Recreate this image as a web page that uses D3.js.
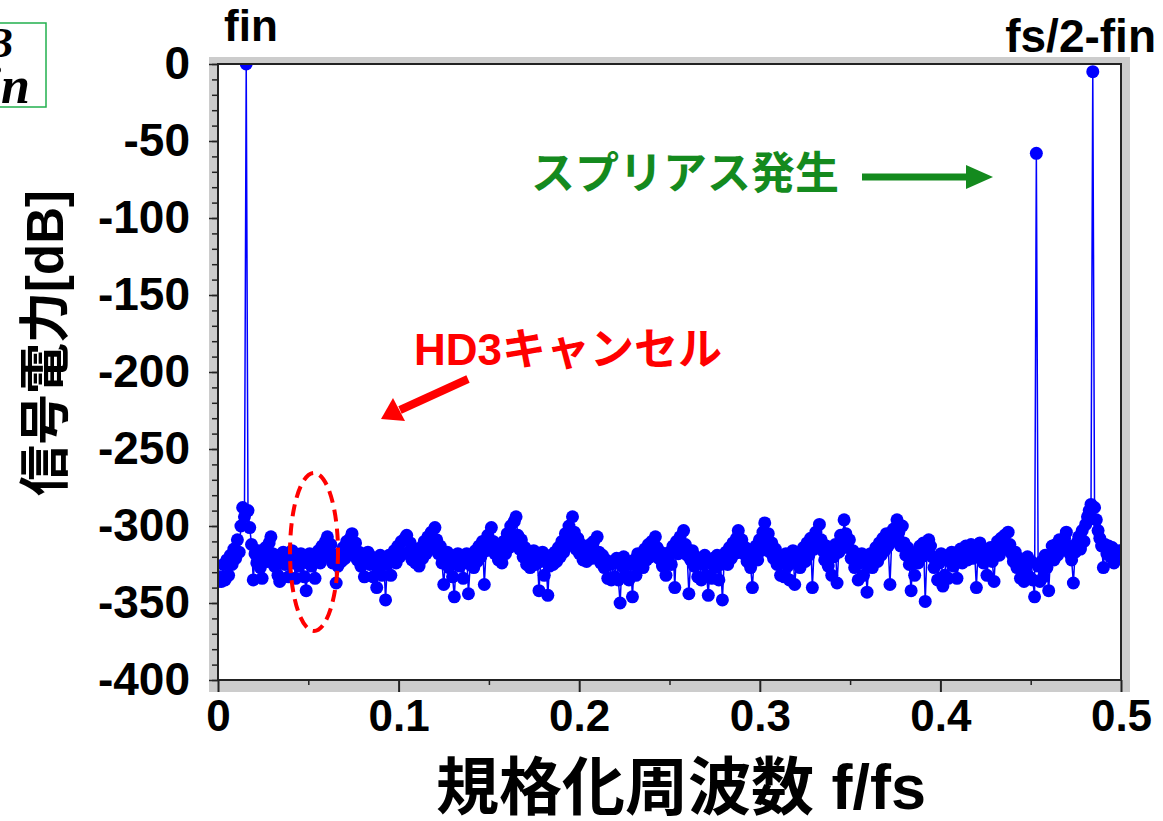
<!DOCTYPE html>
<html>
<head>
<meta charset="utf-8">
<script src="https://cdn.jsdelivr.net/npm/d3@7"></script>
<style>
  body { margin: 0; background: #fff; }
  svg { display: block; }
</style>
</head>
<body>
<svg width="1163" height="821"></svg>
<script>
// FFT output power, one value per bin, bins spread evenly over 0 .. fs/2
var binCount = 512;
var spectrumDb = [
  -336, -333, -336, -325, -335, -322, -332, -319, -325, -315, -321, -309, -317, -300, -288, -294,
  0, -290, -301, -312, -335, -318, -324, -316, -327, -334, -321, -314, -323, -311, -307, -318,
  -326, -319, -332, -336, -322, -317, -325, -320, -333, -323, -316, -324, -334, -321, -326, -318,
  -323, -333, -342, -324, -318, -326, -321, -334, -322, -316, -324, -313, -320, -310, -307, -317,
  -312, -324, -319, -337, -326, -318, -323, -314, -321, -310, -318, -308, -305, -316, -311, -322,
  -317, -326, -320, -333, -323, -317, -325, -320, -333, -323, -340, -326, -319, -332, -322, -348,
  -325, -319, -332, -321, -316, -324, -313, -320, -310, -318, -308, -306, -317, -311, -322, -315,
  -324, -318, -326, -314, -321, -310, -318, -307, -315, -304, -312, -301, -309, -318, -313, -324,
  -338, -322, -317, -327, -321, -333, -346, -323, -318, -326, -321, -334, -324, -318, -344, -325,
  -319, -327, -316, -323, -313, -320, -310, -338, -316, -306, -313, -301, -310, -318, -312, -322,
  -315, -324, -310, -318, -305, -314, -300, -311, -297, -294, -306, -315, -309, -320, -314, -325,
  -318, -327, -321, -316, -325, -320, -342, -323, -317, -332, -322, -345, -326, -319, -325, -317,
  -323, -314, -320, -310, -317, -305, -313, -300, -309, -294, -304, -315, -308, -318, -312, -322,
  -316, -323, -318, -312, -321, -310, -318, -307, -317, -324, -319, -327, -322, -334, -325, -335,
  -324, -333, -321, -335, -350, -326, -320, -332, -323, -335, -325, -346, -322, -332, -318, -325,
  -319, -327, -315, -322, -312, -320, -310, -316, -307, -314, -321, -317, -326, -320, -332, -322,
  -317, -325, -313, -340, -310, -318, -307, -314, -303, -312, -319, -344, -322, -316, -326, -320,
  -333, -323, -335, -325, -319, -332, -345, -324, -334, -321, -327, -319, -335, -325, -348, -322,
  -317, -325, -314, -321, -311, -318, -308, -303, -313, -309, -318, -314, -323, -318, -327, -340,
  -320, -313, -322, -309, -316, -304, -298, -310, -305, -317, -311, -321, -315, -325, -319, -332,
  -322, -333, -318, -326, -335, -321, -316, -338, -324, -318, -327, -320, -314, -323, -311, -319,
  -308, -340, -315, -304, -312, -299, -309, -316, -322, -313, -326, -318, -332, -320, -312, -337,
  -317, -306, -312, -296, -305, -314, -309, -321, -316, -327, -320, -335, -324, -318, -332, -321,
  -343, -325, -318, -327, -321, -314, -323, -311, -319, -308, -316, -305, -313, -338, -310, -302,
  -309, -296, -304, -313, -300, -311, -319, -314, -325, -342, -320, -332, -317, -324, -313, -320,
  -311, -349, -317, -309, -313, -320, -327, -321, -335, -324, -318, -339, -332, -320, -334, -323,
  -317, -326, -320, -334, -323, -315, -324, -318, -313, -322, -316, -312, -321, -317, -340, -314,
  -311, -319, -324, -316, -332, -321, -314, -323, -336, -316, -310, -319, -308, -315, -306, -313,
  -304, -312, -318, -323, -317, -327, -321, -334, -324, -336, -327, -320, -333, -323, -335, -346,
  -58, -326, -336, -323, -333, -319, -327, -342, -321, -313, -322, -312, -319, -309, -316, -312,
  -308, -304, -313, -318, -322, -337, -317, -311, -307, -315, -303, -310, -299, -294, -290, -286,
  -5, -288, -296, -303, -308, -313, -327, -312, -318, -313, -320, -314, -324, -317, -321, -316
];

var yTicks = [0, -50, -100, -150, -200, -250, -300, -350, -400];
var xTicks = [0, 0.1, 0.2, 0.3, 0.4, 0.5];
var xTitle = "規格化周波数 f/fs";
var yTitle = "信号電力[dB]";

var svg = d3.select("svg");
var plot = { left: 218, right: 1121, top: 64, bottom: 680 };
var latin = "'Liberation Sans', Arial, 'Noto Sans CJK JP', sans-serif";

var x = d3.scaleLinear().domain([0, 0.5]).range([plot.left, plot.right]);
var y = d3.scaleLinear().domain([-400, 0]).range([plot.bottom, plot.top]);

var points = spectrumDb.map(function(v, i) { return { f: i / (2 * binCount), db: v }; });

// gray frame + white plot area
svg.append("rect").attr("x", 209).attr("y", 57).attr("width", 921).attr("height", 635).attr("fill", "#cccccc");
svg.append("rect").attr("x", plot.left).attr("y", plot.top)
  .attr("width", plot.right - plot.left).attr("height", plot.bottom - plot.top).attr("fill", "#fff");

svg.append("clipPath").attr("id", "plotclip")
  .append("rect").attr("x", plot.left).attr("y", plot.top)
  .attr("width", plot.right - plot.left).attr("height", plot.bottom - plot.top);

var g = svg.append("g").attr("clip-path", "url(#plotclip)");

// the spectrum: line plus dot markers
var line = d3.line().x(function(d) { return x(d.f); }).y(function(d) { return y(d.db); });
g.append("path").datum(points)
  .attr("d", line).attr("fill", "none").attr("stroke", "#0000ff").attr("stroke-width", 1.5);
g.selectAll("circle").data(points).enter().append("circle")
  .attr("cx", function(d) { return x(d.f); })
  .attr("cy", function(d) { return y(d.db); })
  .attr("r", 6.5).attr("fill", "#0000ff");

// frame lines
svg.append("rect").attr("x", plot.left).attr("y", plot.top)
  .attr("width", plot.right - plot.left).attr("height", plot.bottom - plot.top)
  .attr("fill", "none").attr("stroke", "#222").attr("stroke-width", 2);

var plain = function(d) { return String(d); };  // keep ASCII hyphen for negatives

// y axis (major + minor)
svg.append("g").attr("transform", "translate(" + plot.left + ",0)")
  .call(d3.axisLeft(y).tickValues(d3.range(-400, 1, 10)).tickSize(6).tickFormat(""))
  .call(function(s) { s.select(".domain").remove(); s.selectAll("line").attr("stroke", "#222").attr("stroke-width", 1.5); });
svg.append("g").attr("transform", "translate(" + plot.left + ",0)")
  .call(d3.axisLeft(y).tickValues(yTicks).tickSize(9).tickPadding(19).tickFormat(plain))
  .call(function(s) {
    s.select(".domain").remove();
    s.selectAll("line").attr("stroke", "#222").attr("stroke-width", 1.5);
    s.selectAll("text").attr("font-family", latin).attr("font-weight", "bold").attr("font-size", 46).attr("fill", "#000");
  });

// x axis (major + minor)
svg.append("g").attr("transform", "translate(0," + plot.bottom + ")")
  .call(d3.axisBottom(x).tickValues(d3.range(0.05, 0.5, 0.1)).tickSize(5).tickFormat(""))
  .call(function(s) { s.select(".domain").remove(); s.selectAll("line").attr("stroke", "#222").attr("stroke-width", 1.5); });
svg.append("g").attr("transform", "translate(0," + plot.bottom + ")")
  .call(d3.axisBottom(x).tickValues(xTicks).tickSize(12).tickPadding(8).tickFormat(plain))
  .call(function(s) {
    s.select(".domain").remove();
    s.selectAll("line").attr("stroke", "#222").attr("stroke-width", 2);
    s.selectAll("text").attr("font-family", latin).attr("font-weight", "bold").attr("font-size", 44).attr("fill", "#000");
  });

// axis titles
svg.append("text").attr("x", 681).attr("y", 809).attr("text-anchor", "middle")
  .attr("font-family", latin).attr("font-weight", "bold").attr("font-size", 63).text(xTitle);
svg.append("text").attr("transform", "translate(63,343) rotate(-90)").attr("text-anchor", "middle")
  .attr("font-family", latin).attr("font-weight", "bold").attr("font-size", 51).text(yTitle);

// tone labels
svg.append("text").attr("x", 251).attr("y", 41).attr("text-anchor", "middle")
  .attr("font-family", latin).attr("font-weight", "bold").attr("font-size", 44).text("fin");
svg.append("text").attr("x", 1156).attr("y", 52).attr("text-anchor", "end")
  .attr("font-family", latin).attr("font-weight", "bold").attr("font-size", 46).text("fs/2-fin");

// spur annotation (green)
svg.append("text").attr("x", 531).attr("y", 189)
  .attr("font-family", "'Noto Sans CJK JP', sans-serif").attr("font-weight", "bold").attr("font-size", 44)
  .attr("fill", "#148a1e").text("スプリアス発生");
svg.append("line").attr("x1", 862).attr("y1", 177).attr("x2", 970).attr("y2", 177)
  .attr("stroke", "#148a1e").attr("stroke-width", 7);
svg.append("path").attr("d", "M966,165 L993,177 L966,189 Z").attr("fill", "#148a1e");

// HD3 annotation (red)
svg.append("text").attr("x", 414).attr("y", 365)
  .attr("font-family", latin).attr("font-weight", "bold").attr("font-size", 44)
  .attr("fill", "#ff0000").text("HD3キャンセル");
svg.append("line").attr("x1", 468).attr("y1", 379).attr("x2", 400).attr("y2", 410)
  .attr("stroke", "#ff0000").attr("stroke-width", 8);
svg.append("path").attr("d", "M381,419 L393,398 L405,421 Z").attr("fill", "#ff0000");
svg.append("ellipse").attr("cx", 314).attr("cy", 552).attr("rx", 24).attr("ry", 79)
  .attr("fill", "none").attr("stroke", "#ff0000").attr("stroke-width", 4).attr("stroke-dasharray", "12 7");

// clipped unit box at the left edge
svg.append("rect").attr("x", -4).attr("y", 23).attr("width", 50).attr("height", 84)
  .attr("fill", "none").attr("stroke", "#22b04e").attr("stroke-width", 1.5);
svg.append("text").attr("x", 13).attr("y", 57).attr("text-anchor", "end")
  .attr("font-family", "'Liberation Serif', serif").attr("font-weight", "bold").attr("font-style", "italic")
  .attr("font-size", 42).text("dB");
svg.append("text").attr("x", 30).attr("y", 103).attr("text-anchor", "end")
  .attr("font-family", "'Liberation Serif', serif").attr("font-weight", "bold").attr("font-style", "italic")
  .attr("font-size", 52).text("fin");
</script>
</body>
</html>
